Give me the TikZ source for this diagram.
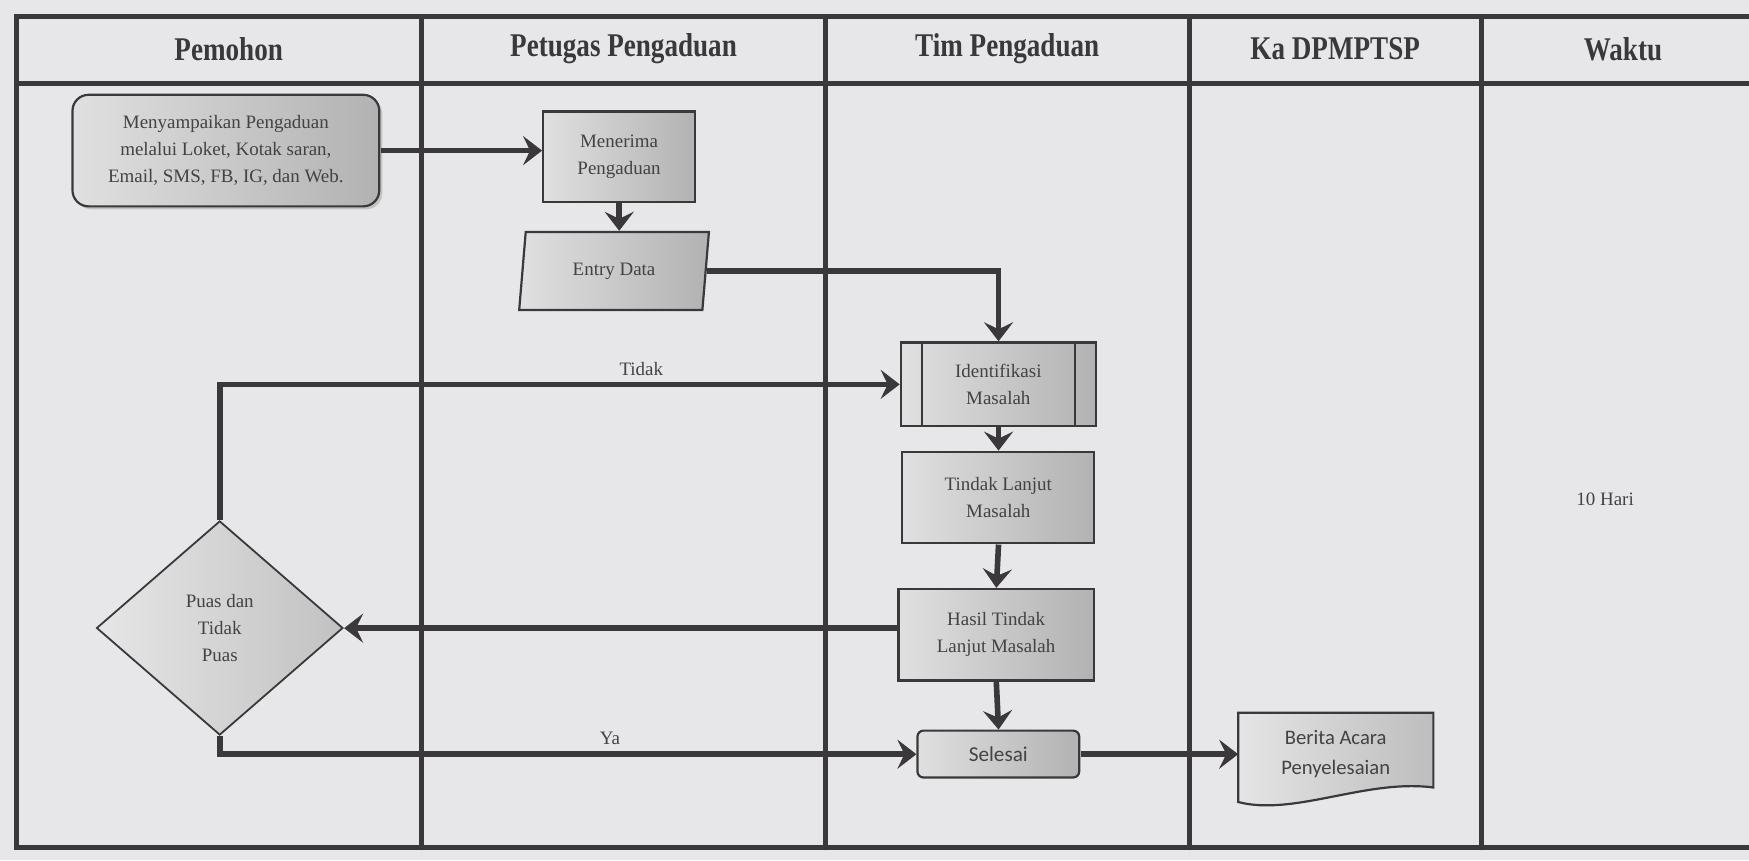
\documentclass[tikz,border=0pt]{standalone}
\usepackage{fontspec}
\setmainfont{Liberation Serif}
\newfontfamily\carlito{Carlito}
\usetikzlibrary{arrows.meta,shapes.geometric,shadows}
\definecolor{paper}{HTML}{E7E7E9}
\definecolor{ink}{HTML}{3A383A}
\definecolor{boxa}{HTML}{E0E0E0}
\definecolor{boxb}{HTML}{B2B2B2}
\definecolor{txt}{HTML}{444244}
\begin{document}
\begin{tikzpicture}[x=1pt,y=-1pt,scale=1.11543,
  every node/.append style={transform shape},
  frame/.style={line width=5pt, draw=ink, line cap=round},
  flow/.style={line width=5.6pt, draw=ink, -{Stealth[length=19pt,width=29pt,inset=7pt]}},
  head/.style={text=ink, font=\fontsize{27}{30}\selectfont\bfseries},
  bodyfont/.style={font=\fontsize{17}{24}\selectfont, text=txt, align=center},
  box/.style={bodyfont, draw=ink, line width=2.2pt, left color=boxa, right color=boxb, inner sep=0pt},
  lbl/.style={bodyfont}
]
\fill[paper] (0,0) rectangle (1568,771);
\useasboundingbox (0,0) rectangle (1568,771);

% table frame
\draw[frame] (1580,15) -- (15,15) -- (15,760) -- (1580,760);
\draw[frame] (15,75) -- (1580,75);
\draw[frame] (378,15) -- (378,760);
\draw[frame] (740,15) -- (740,760);
\draw[frame] (1066,15) -- (1066,760);
\draw[frame] (1328,15) -- (1328,760);

% headers
\node[head] (h1) at (205,44) {\scalebox{0.9}[1.1]{Pemohon}};
\node[head] (h2) at (559,44) {\scalebox{0.9}[1.1]{Petugas Pengaduan}};
\node[head] (h3) at (903,44) {\scalebox{0.9}[1.1]{Tim Pengaduan}};
\node[head] (h4) at (1197,44) {\scalebox{0.9}[1.1]{Ka DPMPTSP}};
\node[head] (h5) at (1455,44) {\scalebox{0.9}[1.1]{Waktu}};

% nodes
\node[box, rounded corners=16pt, minimum width=275pt, minimum height=100pt,
      drop shadow={shadow xshift=3pt, shadow yshift=-3pt, opacity=0.35}]
  (start) at (202.5,135) {Menyampaikan Pengaduan\\melalui Loket, Kotak saran,\\Email, SMS, FB, IG, dan Web.};
\node[box, minimum width=136pt, minimum height=81pt] (terima) at (555,140.5) {Menerima\\Pengaduan};
\node[box, trapezium, trapezium left angle=79.5, trapezium right angle=100.5,
      trapezium stretches=true, minimum width=171pt, minimum height=70pt] (entry) at (550.5,243) {Entry Data};
\node[box, minimum width=175pt, minimum height=75pt] (ident) at (895,344.5) {Identifikasi\\Masalah};
\draw[ink, line width=2.2pt] ([xshift=20pt]ident.north west) -- ([xshift=20pt]ident.south west);
\draw[ink, line width=2.2pt] ([xshift=-20pt]ident.north east) -- ([xshift=-20pt]ident.south east);
\node[box, minimum width=172pt, minimum height=82pt] (tindak) at (895,446) {Tindak Lanjut\\Masalah};
\node[box, minimum width=175pt, minimum height=82pt] (hasil) at (893,569) {Hasil Tindak\\Lanjut Masalah};
\node[box, rounded corners=6pt, minimum width=145pt, minimum height=42pt, font=\carlito\fontsize{19}{24}\selectfont] (selesai) at (895,676) {Selesai};
\node[box, diamond, minimum width=221pt, minimum height=192pt, left color=boxa!80!white, right color=boxb!80!white, line width=1.8pt] (cek) at (197,563) {Puas dan\\Tidak\\Puas};

% document shape
\shade[left color=boxa!85!white, right color=boxb!85!white, draw=ink, line width=2.2pt]
  (1110,639) -- (1285,639) -- (1285,706) .. controls (1225,698) and (1160,732) .. (1110,719) -- cycle;
\node[bodyfont, font=\carlito\fontsize{18.5}{27}\selectfont, minimum width=175pt, minimum height=74pt, inner sep=0pt] (berita) at (1197.5,676) {Berita Acara\\Penyelesaian};

% waktu
\node[lbl] (waktu) at (1439,448) {10 Hari};

% connectors
\draw[flow] (start.east) -- (start.east -| terima.west);
\draw[flow] (terima.south) -- (terima.south |- entry.north);
\draw[flow] (entry.east) -| (ident.north);
\draw[flow] (ident.south) -- (tindak.north);
\draw[flow] (tindak.south) -- (hasil.north);
\draw[flow] (hasil.south) -- (selesai.north);
\draw[flow] (hasil.west |- cek.east) -- (cek.east);
\draw[flow] (cek.north) |- (ident.west) node[lbl, pos=0.81, above=2pt] (tidak) {Tidak};
\draw[flow] (cek.south) |- (selesai.west) node[lbl, pos=0.78, above=2pt] (ya) {Ya};
\draw[flow] (selesai.east) -- (selesai.east -| berita.west);
\end{tikzpicture}
\end{document}
